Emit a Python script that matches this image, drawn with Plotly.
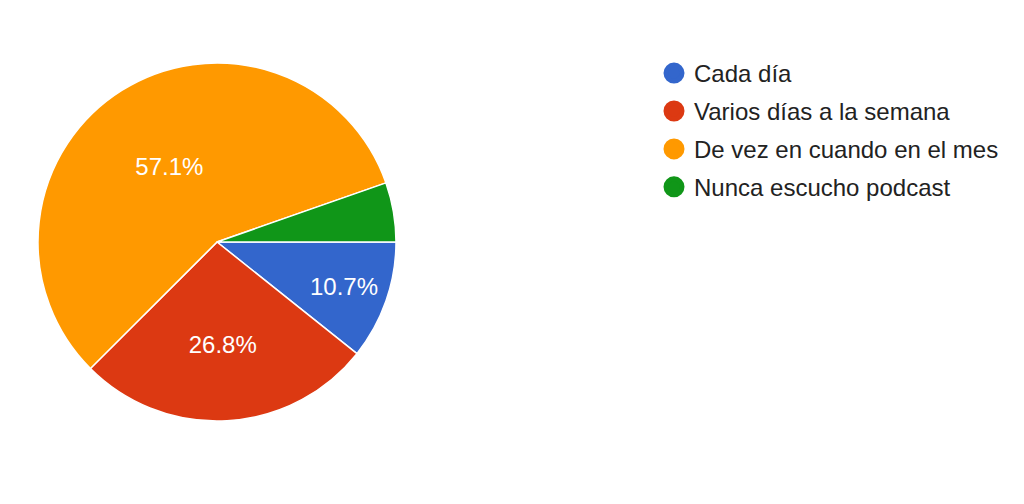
import plotly.graph_objects as go

# survey answers: how often do you listen to podcasts
categories = ["Cada día", "Varios días a la semana", "De vez en cuando en el mes", "Nunca escucho podcast"]
counts = [6, 15, 32, 3]
colors = ["#3366cc", "#dc3912", "#ff9900", "#109618"]
label_fmt = ["%{percent:.1%}", "%{percent:.1%}", "%{percent:.1%}", ""]

W, H = 1024, 504
off = 8  # page body margin

fig = go.Figure()

fig.add_trace(go.Pie(
    labels=categories,
    values=counts,
    sort=False,
    direction="clockwise",
    rotation=90,
    marker=dict(colors=colors, line=dict(color="white", width=1.5)),
    texttemplate=label_fmt,
    textposition="inside",
    insidetextorientation="horizontal",
    textfont=dict(color="white", size=24, family="Liberation Sans, Arial"),
    showlegend=False,
    hoverinfo="label+percent",
    domain=dict(x=[(38 - off) / W, (396 - off) / W],
                y=[1 - (421 - off) / H, 1 - (63 - off) / H]),
))

# legend entries with round markers
for i, (name, col) in enumerate(zip(categories, colors)):
    fig.add_trace(go.Scatter(
        x=[None], y=[None], mode="markers", name=name,
        legendgroup=f"g{i}",
        marker=dict(symbol="circle", size=16, color=col, line=dict(color=col, width=5)),
    ))

fig.update_layout(
    width=W, height=H,
    margin=dict(l=0, r=0, t=0, b=0),
    paper_bgcolor="white", plot_bgcolor="white",
    font=dict(family="Liberation Sans, Arial", color="#222222"),
    xaxis=dict(visible=False), yaxis=dict(visible=False),
    legend=dict(
        x=(654 - off) / W, y=1 - (51 - off) / H, xanchor="left", yanchor="top",
        font=dict(size=24, color="#222222"),
        traceorder="grouped", tracegroupgap=3.7,
        itemsizing="trace",
    ),
)

fig.write_html("out.html")
